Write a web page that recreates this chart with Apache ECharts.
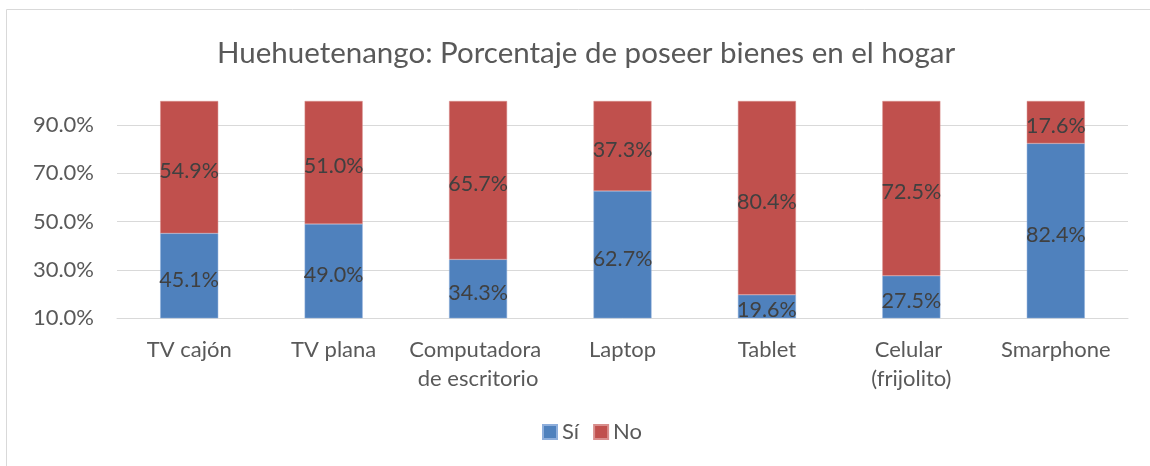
<!DOCTYPE html>
<html>
<head>
<meta charset="utf-8">
<script src="https://cdn.jsdelivr.net/npm/echarts@6/dist/echarts.min.js"></script>
<style>
  html, body { margin: 0; padding: 0; background: #fff; }
  #chart { width: 1150px; height: 466px; }
</style>
</head>
<body>
<div id="chart"></div>
<script>
// datos
const categories = ['TV cajón', 'TV plana', 'Computadora de escritorio', 'Laptop', 'Tablet', 'Celular (frijolito)', 'Smarphone']
const siValues = [45.1, 49.0, 34.3, 62.7, 19.6, 27.5, 82.4]
const noValues = [54.9, 51.0, 65.7, 37.3, 80.4, 72.5, 17.6]
const yTicks = [10, 30, 50, 70, 90]

const FONT = 'Lato, "Noto Sans", sans-serif'
const TEXT = '#595959'

const chart = echarts.init(document.getElementById('chart'))

const labelStyle = {
  show: true,
  position: 'inside',
  offset: [0, 4],
  color: '#404040',
  fontFamily: FONT,
  fontSize: 21.5,
  formatter: p => p.value.toFixed(1) + '%',
}

chart.setOption({
  animation: false,
  title: {
    text: 'Huehuetenango: Porcentaje de poseer bienes en el hogar',
    left: 212,
    top: 33,
    textStyle: { color: TEXT, fontFamily: FONT, fontSize: 29.5, fontWeight: 'normal' },
  },
  graphic: [{
    type: 'rect',
    shape: { x: 6.5, y: 9.5, width: 1200, height: 500 },
    style: { fill: 'none', stroke: '#d9d9d9', lineWidth: 1 },
    silent: true,
    z: -10,
  }],
  legend: {
    data: ['Sí', 'No'],
    bottom: 18,
    left: 537,
    icon: 'rect',
    itemWidth: 14,
    itemHeight: 14,
    itemGap: 14,
    textStyle: { color: TEXT, fontFamily: FONT, fontSize: 22 },
  },
  grid: { left: 117, right: 22, top: 101, bottom: 148 },
  xAxis: {
    type: 'category',
    data: categories,
    axisLine: { lineStyle: { color: '#d9d9d9', width: 1 } },
    axisTick: { show: false },
    axisLabel: {
      color: TEXT,
      fontFamily: FONT,
      fontSize: 22,
      lineHeight: 29,
      margin: 17,
      interval: 0,
      width: 140,
      overflow: 'break',
    },
  },
  yAxis: {
    type: 'value',
    min: 10,
    max: 100,
    axisLine: { show: false },
    axisTick: { show: false, customValues: yTicks },
    axisLabel: {
      customValues: yTicks,
      color: TEXT,
      fontFamily: FONT,
      fontSize: 22,
      margin: 23,
      formatter: v => v.toFixed(1) + '%',
    },
    splitLine: { lineStyle: { color: '#d9d9d9', width: 1 } },
  },
  series: [
    {
      name: 'Sí',
      type: 'bar',
      stack: 'total',
      data: siValues,
      barWidth: 58,
      itemStyle: { color: '#4f81bd', borderColor: '#8eaedb', borderWidth: 0.5 },
      label: labelStyle,
    },
    {
      name: 'No',
      type: 'bar',
      stack: 'total',
      data: noValues,
      barWidth: 58,
      itemStyle: { color: '#c0504d', borderColor: '#d88e8c', borderWidth: 0.5 },
      label: labelStyle,
    },
  ],
})
</script>
</body>
</html>
